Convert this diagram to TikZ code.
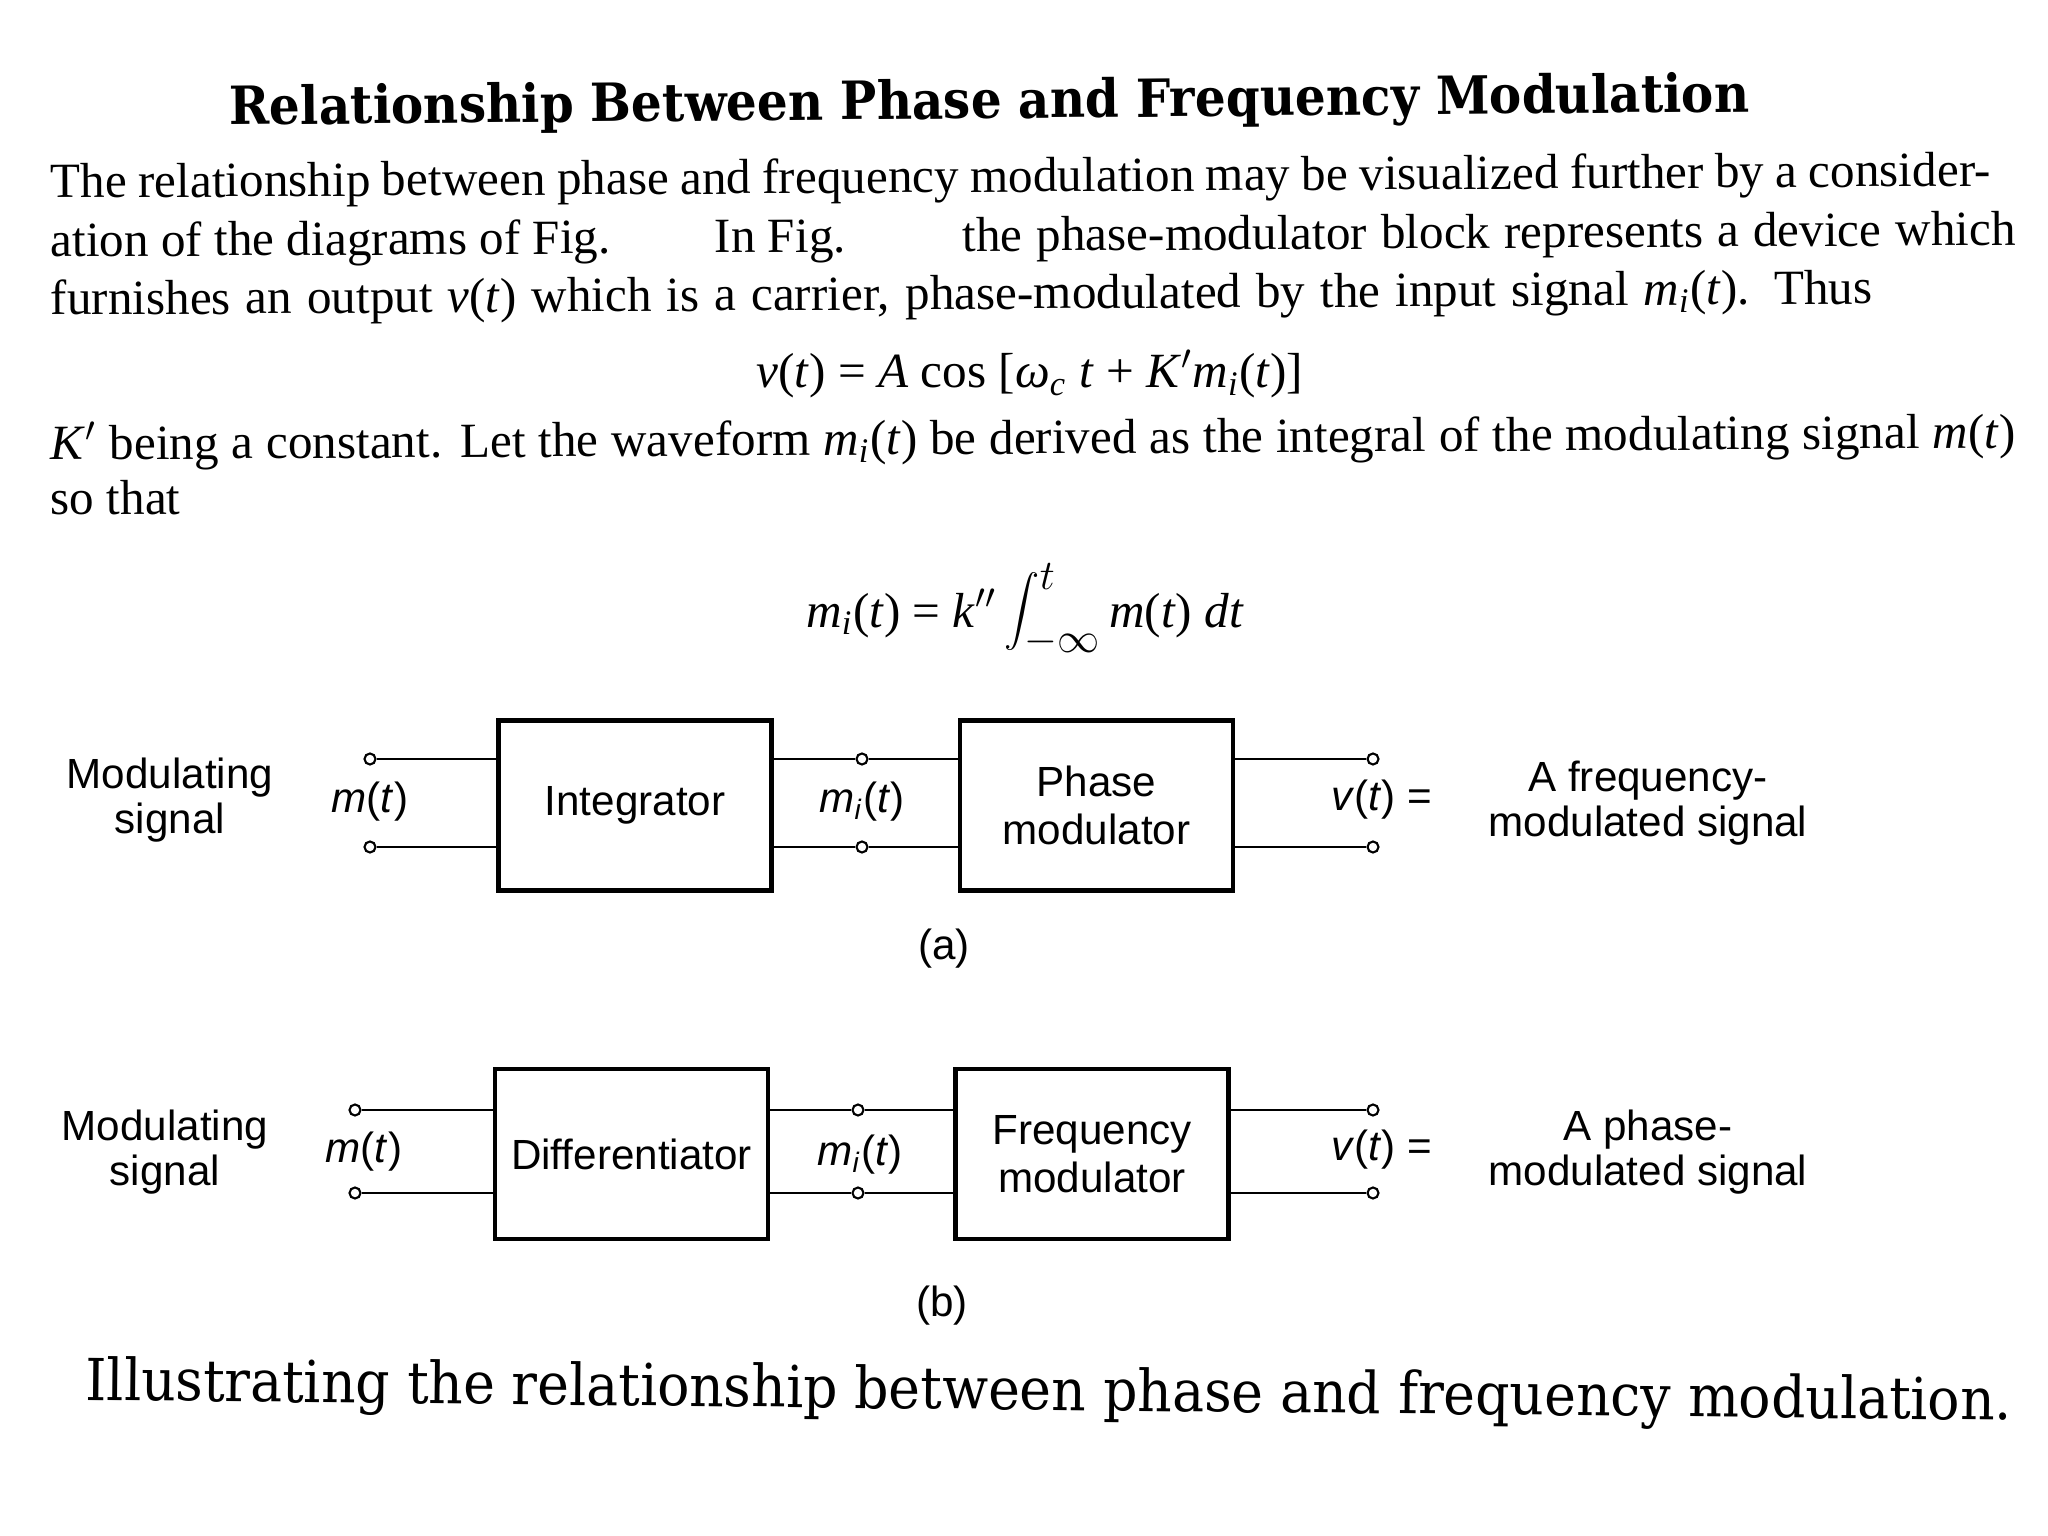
\documentclass[tikz,border=0pt]{standalone}
\usepackage{fontspec}
\setmainfont{Liberation Serif}
\setsansfont{Liberation Sans}
\newfontfamily\headfont{DejaVu Serif}
\usetikzlibrary{positioning}
\newcommand\jline[2]{\makebox[#1][s]{#2}}
\newcommand\msubi{\textit{m}\textsubscript{\textit{i}}}

\begin{document}
\begin{tikzpicture}[
   blk/.style={draw,line width=1.3pt,minimum width=2.73cm,minimum height=1.70cm,
               font=\sffamily\fontsize{12}{13.5}\selectfont,align=center,inner sep=1pt},
   term/.style={circle,draw,line width=0.6pt,fill=white,inner sep=0pt,minimum size=0.11cm},
   wire/.style={line width=0.8pt},
   lbl/.style={font=\sffamily\fontsize{12}{12.8}\selectfont,align=center},
   body/.style={anchor=base west,inner sep=0pt,rotate=0.35,font=\fontsize{14}{16}\selectfont},
   eqn/.style={anchor=base,inner sep=0pt,font=\fontsize{14}{16}\selectfont}]
  \useasboundingbox (0,0) rectangle (20.48,-15.36);
  \fill[white] (0,0) rectangle (20.48,-15.36);

  \node[anchor=base west,inner sep=0pt,rotate=0.5] (title) at (2.29,-1.25)
     {\resizebox{15.2cm}{0.40cm}{\headfont\bfseries Relationship Between Phase and Frequency Modulation}};

  \node[body] (l1) at (0.50,-1.98) {\jline{19.40cm}{The relationship between phase and frequency modulation may be visualized further by a consider-}};
  \node[body] (l2a) at (0.50,-2.57) {\jline{5.60cm}{ation of the diagrams of Fig.}};
  \node[body] (l2b) at (7.14,-2.53) {In Fig.};
  \node[body] (l2c) at (9.62,-2.515) {\jline{10.53cm}{the phase-modulator block represents a device which}};
  \node[body] (l3) at (0.50,-3.15) {\jline{18.22cm}{furnishes an output \textit{v}(\textit{t}) which is a carrier, phase-modulated by the input signal \msubi(\textit{t}). Thus}};
  \node[eqn] (eqv) at (10.30,-3.88) {\textit{v}(\textit{t}) = \textit{A} cos [\textit{ω}\textsubscript{\textit{c}} \textit{t} + \textit{K}$'$\msubi(\textit{t})]};
  \node[body] (l4) at (0.50,-4.60) {\jline{19.65cm}{\textit{K}$'$ being a constant. Let the waveform \msubi(\textit{t}) be derived as the integral of the modulating signal \textit{m}(\textit{t})}};
  \node[body] (l5) at (0.50,-5.15) {so that};
  \node[eqn] (eqi) at (10.25,-6.27) {\msubi(\textit{t}) = \textit{k}$''$\,{\fontsize{18}{20}\selectfont$\displaystyle\int_{-\infty}^{t}$}\,\textit{m}(\textit{t}) \textit{dt}};

  \node[blk] (integ) at (6.35,-8.055) {Integrator};
  \node[blk,right=1.84cm of integ] (pmod) {Phase\\modulator};
  \node[term] (ai1) at (3.70,-7.59) {};
  \node[term] (ai2) at (3.70,-8.47) {};
  \node[term] (am1) at (8.62,-7.59) {};
  \node[term] (am2) at (8.62,-8.47) {};
  \node[term] (ao1) at (13.73,-7.59) {};
  \node[term] (ao2) at (13.73,-8.47) {};
  \draw[wire] (ai1) -- (ai1 -| integ.west);
  \draw[wire] (ai2) -- (ai2 -| integ.west);
  \draw[wire] (am1 -| integ.east) -- (am1) -- (am1 -| pmod.west);
  \draw[wire] (am2 -| integ.east) -- (am2) -- (am2 -| pmod.west);
  \draw[wire] (ao1 -| pmod.east) -- (ao1);
  \draw[wire] (ao2 -| pmod.east) -- (ao2);
  \node[lbl] (asrc) at (1.70,-8.00) {Modulating\\signal};
  \node[lbl] (amt) at (3.70,-8.02) {\textit{m}(\textit{t})};
  \node[lbl] (ami) at (8.62,-8.02) {\textit{m}\textsubscript{\textit{i}}(\textit{t})};
  \node[lbl] (avt) at (13.82,-8.00) {\textit{v}(\textit{t}) =};
  \node[lbl] (aout) at (16.48,-8.03) {A frequency-\\modulated signal};
  \node[lbl] (acap) at (9.44,-9.49) {(a)};

  \node[blk] (diff) at (6.315,-11.54) {Differentiator};
  \node[blk,right=1.83cm of diff] (fmod) {Frequency\\modulator};
  \node[term] (bi1) at (3.55,-11.10) {};
  \node[term] (bi2) at (3.55,-11.93) {};
  \node[term] (bm1) at (8.58,-11.10) {};
  \node[term] (bm2) at (8.58,-11.93) {};
  \node[term] (bo1) at (13.73,-11.10) {};
  \node[term] (bo2) at (13.73,-11.93) {};
  \draw[wire] (bi1) -- (bi1 -| diff.west);
  \draw[wire] (bi2) -- (bi2 -| diff.west);
  \draw[wire] (bm1 -| diff.east) -- (bm1) -- (bm1 -| fmod.west);
  \draw[wire] (bm2 -| diff.east) -- (bm2) -- (bm2 -| fmod.west);
  \draw[wire] (bo1 -| fmod.east) -- (bo1);
  \draw[wire] (bo2 -| fmod.east) -- (bo2);
  \node[lbl] (bsrc) at (1.65,-11.52) {Modulating\\signal};
  \node[lbl] (bmt) at (3.64,-11.52) {\textit{m}(\textit{t})};
  \node[lbl] (bmi) at (8.60,-11.55) {\textit{m}\textsubscript{\textit{i}}(\textit{t})};
  \node[lbl] (bvt) at (13.82,-11.50) {\textit{v}(\textit{t}) =};
  \node[lbl] (bout) at (16.48,-11.52) {A phase-\\modulated signal};
  \node[lbl] (bcap) at (9.42,-13.06) {(b)};

  \node[anchor=base west,inner sep=0pt,rotate=-0.6] (cap) at (0.85,-14.00)
     {\resizebox{19.26cm}{0.44cm}{\headfont Illustrating the relationship between phase and frequency modulation.}};
\end{tikzpicture}
\end{document}
